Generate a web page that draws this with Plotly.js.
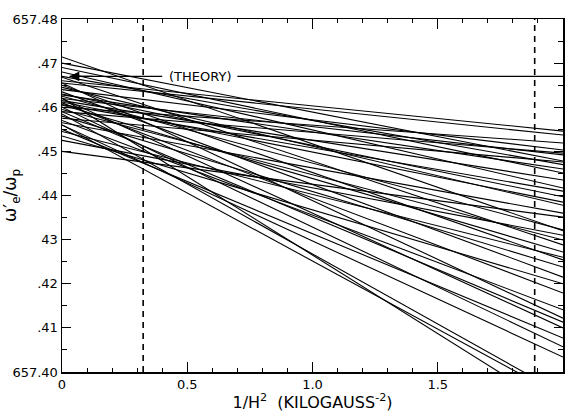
<!DOCTYPE html>
<html>
<head>
<meta charset="utf-8">
<script src="https://cdn.plot.ly/plotly-3.0.1.min.js"></script>
<style>html,body{margin:0;padding:0;background:#fff;}#chart{width:573px;height:412px;}</style>
</head>
<body>
<div id="chart"></div>
<script>
// Each measured line: value at 1/H^2 = 0 and at 1/H^2 = 2.0
const xEnds = [0, 2.0];
const lineStart = [657.4714, 657.4700, 657.4690, 657.4680, 657.4668, 657.4660, 657.4655, 657.4655,
  657.4650, 657.4645, 657.4640, 657.4635, 657.4630, 657.4625, 657.4621, 657.4620, 657.4620, 657.4615,
  657.4612, 657.4610, 657.4605, 657.4600, 657.4600, 657.4595, 657.4590, 657.4590, 657.4585, 657.4580,
  657.4575, 657.4570, 657.4565, 657.4560, 657.4550, 657.4545, 657.4560, 657.4535, 657.4525, 657.4500,
  657.4670, 657.4628, 657.4606];
const lineEnd = [657.4320, 657.4478, 657.4451, 657.4417, 657.4288, 657.4546, 657.4537, 657.4122,
  657.4254, 657.4378, 657.4503, 657.4215, 657.4397, 657.4322, 657.3909, 657.4492, 657.4100, 657.4435,
  657.4385, 657.4179, 657.4272, 657.4519, 657.4057, 657.4299, 657.4496, 657.4113, 657.3950, 657.4238,
  657.4476, 657.4141, 657.4360, 657.3943, 657.4077, 657.4260, 657.4034, 657.4200, 657.4310, 657.4351,
  657.4470, 657.4460, 657.4410];

// Dashed vertical limits
const dashX = [0.324, 1.887];
const yRange = [657.40, 657.48];

// Theory value
const theoryY = 657.4670;
const theoryArrowX = [0.03, 0.40];
const theoryLineX = [0.70, 2.0];
const theoryLabel = '(THEORY)';
const theoryLabelX = 0.55;

// Ticks
const xTickVals = [0, 0.5, 1.0, 1.5, 2.0];
const xTickText = ['0', '0.5', '1.0', '1.5', '2.0'];
const yTickVals = [657.40, 657.41, 657.42, 657.43, 657.44, 657.45, 657.46, 657.47, 657.48];
const yTickText = ['657.40', '.41', '.42', '43', '.44', '.45', '.46', '.47', '657.48'];

const traces = [];
for (let i = 0; i < lineStart.length; i++) {
  traces.push({
    x: xEnds, y: [lineStart[i], lineEnd[i]], mode: 'lines', type: 'scatter',
    line: {color: '#000', width: 1.1}, hoverinfo: 'skip', showlegend: false
  });
}
dashX.forEach(function (dx) {
  traces.push({
    x: [dx, dx], y: yRange, mode: 'lines', type: 'scatter',
    line: {color: '#000', width: 1.6, dash: '6px,5px'}, hoverinfo: 'skip', showlegend: false
  });
});
traces.push({
  x: theoryArrowX, y: [theoryY, theoryY], mode: 'lines', type: 'scatter',
  line: {color: '#000', width: 1.4}, hoverinfo: 'skip', showlegend: false
});
traces.push({
  x: theoryLineX, y: [theoryY, theoryY], mode: 'lines', type: 'scatter',
  line: {color: '#000', width: 1.2}, hoverinfo: 'skip', showlegend: false
});

const fontFam = 'DejaVu Sans, Liberation Sans, sans-serif';
const layout = {
  width: 573, height: 412,
  margin: {l: 62, r: 10, t: 19, b: 40},
  paper_bgcolor: '#fff', plot_bgcolor: '#fff',
  font: {family: fontFam, color: '#000', size: 13},
  showlegend: false,
  xaxis: {
    range: [0, 2.0], tickmode: 'array', tickvals: xTickVals, ticktext: xTickText,
    ticks: 'inside', ticklen: 10, tickwidth: 1.2, tickcolor: '#000',
    minor: {tickmode: 'linear', tick0: 0, dtick: 0.1, ticks: 'inside', ticklen: 4, tickcolor: '#000', tickwidth: 1},
    showline: true, linecolor: '#000', linewidth: 1.5, mirror: 'allticks',
    showgrid: false, zeroline: false,
    tickfont: {size: 13, family: fontFam},
    title: {text: '1/H<sup>2</sup>  (KILOGAUSS<sup>-2</sup>)', font: {size: 16, family: fontFam}, standoff: 4}
  },
  yaxis: {
    range: yRange, tickmode: 'array', tickvals: yTickVals, ticktext: yTickText,
    ticks: 'inside', ticklen: 9, tickwidth: 1.2, tickcolor: '#000',
    minor: {tickmode: 'linear', tick0: 657.40, dtick: 0.005, ticks: 'inside', ticklen: 5, tickcolor: '#000', tickwidth: 1},
    showline: true, linecolor: '#000', linewidth: 1.5, mirror: 'allticks',
    showgrid: false, zeroline: false,
    tickfont: {size: 13, family: fontFam},
    title: {text: 'ω\u2032<sub>e</sub>/ω<sub>p</sub>', font: {size: 17, family: fontFam}, standoff: 8}
  },
  annotations: [
    {x: theoryLabelX, y: theoryY, xref: 'x', yref: 'y', text: theoryLabel, showarrow: false,
     font: {size: 13, family: fontFam, color: '#000'}},
    {x: theoryArrowX[0], y: theoryY, xref: 'x', yref: 'y', ax: theoryArrowX[0] + 0.1, ay: theoryY,
     axref: 'x', ayref: 'y', text: '', showarrow: true, arrowhead: 2, arrowsize: 1.4, arrowwidth: 1.4, arrowcolor: '#000'}
  ]
};
Plotly.newPlot('chart', traces, layout, {displayModeBar: false, staticPlot: true});
</script>
</body>
</html>
